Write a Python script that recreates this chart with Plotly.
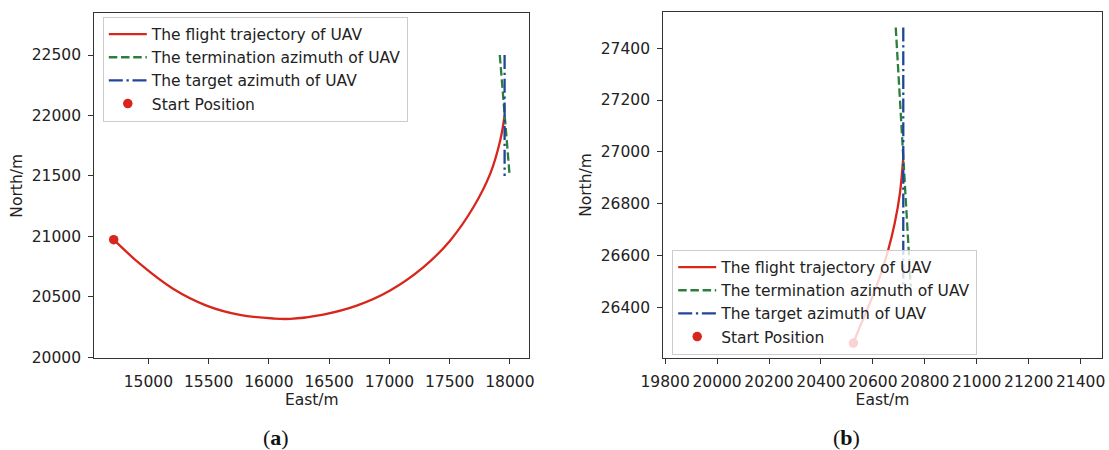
import plotly.graph_objects as go

# ---------------- data: panel (a) ----------------
a_traj_east = [14712, 14928, 15204, 15482, 15759, 16036, 16177, 16451, 16729,
               17006, 17283, 17505, 17698, 17837, 17920, 17956]
a_traj_north = [20973, 20774, 20567, 20428, 20351, 20321, 20318, 20354, 20428,
                20553, 20746, 20967, 21243, 21519, 21795, 22000]
a_term_east = [17916, 17998]
a_term_north = [22500, 21500]
a_target_east = [17956, 17956]
a_target_north = [22500, 21500]
a_start_east = [14712]
a_start_north = [20973]

# ---------------- data: panel (b) ----------------
b_traj_east = [20525, 20550, 20588, 20627, 20659, 20684, 20704, 20717]
b_traj_north = [26262, 26325, 26415, 26518, 26621, 26724, 26840, 26978]
b_term_east = [20688, 20746]
b_term_north = [27480, 26480]
b_target_east = [20717, 20717]
b_target_north = [27480, 26480]
b_start_east = [20525]
b_start_north = [26262]

a_xticks = [15000, 15500, 16000, 16500, 17000, 17500, 18000]
a_yticks = [20000, 20500, 21000, 21500, 22000, 22500]
b_xticks = [19800, 20000, 20200, 20400, 20600, 20800, 21000, 21200, 21400]
b_yticks = [26400, 26600, 26800, 27000, 27200, 27400]

names = ["The flight trajectory of UAV", "The termination azimuth of UAV",
         "The target azimuth of UAV", "Start Position"]

RED = "#d9261c"
GREEN = "#2b7f3e"
BLUE = "#1f4697"
FONT = "DejaVu Sans"
FS = 15.5
LW = 2.3

fig = go.Figure()


def add_panel(xa, ya, lg, te, tn, me, mn, ge, gn, se, sn):
    fig.add_trace(go.Scatter(x=te, y=tn, mode="lines", name=names[0],
                             line=dict(color=RED, width=LW, shape="spline"),
                             xaxis=xa, yaxis=ya, legend=lg))
    fig.add_trace(go.Scatter(x=me, y=mn, mode="lines", name=names[1],
                             line=dict(color=GREEN, width=LW, dash="8.5px,3.7px"),
                             xaxis=xa, yaxis=ya, legend=lg))
    fig.add_trace(go.Scatter(x=ge, y=gn, mode="lines", name=names[2],
                             line=dict(color=BLUE, width=LW, dash="14px,3.7px,2.3px,3.7px"),
                             xaxis=xa, yaxis=ya, legend=lg))
    fig.add_trace(go.Scatter(x=se, y=sn, mode="markers", name=names[3],
                             marker=dict(color=RED, size=9.5),
                             xaxis=xa, yaxis=ya, legend=lg))


add_panel("x", "y", "legend", a_traj_east, a_traj_north, a_term_east, a_term_north,
          a_target_east, a_target_north, a_start_east, a_start_north)
add_panel("x2", "y2", "legend2", b_traj_east, b_traj_north, b_term_east, b_term_north,
          b_target_east, b_target_north, b_start_east, b_start_north)

W, H = 1109, 450

axis_common = dict(showline=True, linecolor="#333333", linewidth=1.3, mirror=True,
                   ticks="outside", ticklen=5, tickwidth=1.2, tickcolor="#333333",
                   showgrid=False, zeroline=False, automargin=False, tickformat="d",
                   ticklabelstandoff=4,
                   tickfont=dict(family=FONT, size=FS, color="#222222"),
                   title_font=dict(family=FONT, size=FS, color="#222222"))

fig.update_layout(
    width=W, height=H,
    margin=dict(l=0, r=0, t=0, b=0),
    paper_bgcolor="white", plot_bgcolor="white",
    showlegend=True,
    xaxis=dict(domain=[94.3 / W, 529.3 / W], range=[14551, 18161], tickvals=a_xticks,
               anchor="y", title=dict(text="East/m", standoff=4), **axis_common),
    yaxis=dict(domain=[1 - 358.3 / H, 1 - 13.3 / H], range=[19992, 22845], tickvals=a_yticks,
               anchor="x", title=dict(text="North/m", standoff=5), **axis_common),
    xaxis2=dict(domain=[663.3 / W, 1101.7 / W], range=[19793, 21481], tickvals=b_xticks,
                anchor="y2", title=dict(text="East/m", standoff=4), **axis_common),
    yaxis2=dict(domain=[1 - 358.3 / H, 1 - 11.7 / H], range=[26203, 27541], tickvals=b_yticks,
                anchor="x2", title=dict(text="North/m", standoff=5), **axis_common),
    legend=dict(x=102.8 / W, y=1 - 16.5 / H, xanchor="left", yanchor="top",
                bgcolor="rgba(255,255,255,0.8)", bordercolor="#cccccc", borderwidth=1,
                itemwidth=38,
                font=dict(family=FONT, size=FS, color="#222222")),
    legend2=dict(x=672.2 / W, y=1 - 249.5 / H, xanchor="left", yanchor="top",
                 bgcolor="rgba(255,255,255,0.8)", bordercolor="#cccccc", borderwidth=1,
                 itemwidth=38,
                 font=dict(family=FONT, size=FS, color="#222222")),
)

for cx, lab in [(276 / W, "a"), (846 / W, "b")]:
    fig.add_annotation(x=cx, y=1 - 437 / H, xref="paper", yref="paper",
                       xanchor="center", yanchor="middle",
                       text="(<b>%s</b>)" % lab, showarrow=False,
                       font=dict(family="Liberation Serif", size=22, color="#111111"))

fig.write_html("out.html", config={"displayModeBar": False},
               post_script="document.body.style.margin='0';document.body.style.overflow='hidden';")
